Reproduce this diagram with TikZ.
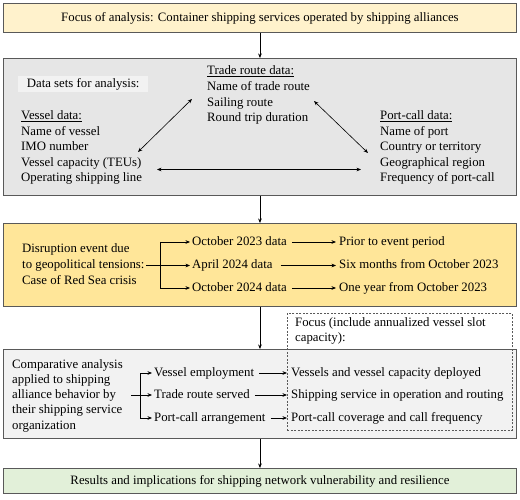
\documentclass[tikz,border=0pt]{standalone}
\usepackage{fontspec}
\setmainfont{Liberation Serif}
\usetikzlibrary{arrows.meta}
\definecolor{edgec}{HTML}{595959}
\definecolor{ylight}{HTML}{FFF2CC}
\definecolor{gbox}{HTML}{E6E6E6}
\definecolor{ginner}{HTML}{F2F2F2}
\definecolor{goldc}{HTML}{FFE699}
\definecolor{gcomp}{HTML}{F2F2F2}
\definecolor{gres}{HTML}{E2F0D9}
\begin{document}
\begin{tikzpicture}[x=1pt,y=-1pt,
  panel/.style={draw=edgec, line width=0.9pt, anchor=north west, inner sep=0pt, font=\fontsize{12.8}{15}\selectfont},
  t/.style={anchor=west, inner sep=0pt, font=\fontsize{12.8}{15}\selectfont, text height=8.5pt, text depth=2.5pt},
  arr/.style={-{Stealth[length=4.5pt,width=3.6pt]}, line width=0.6pt},
  darr/.style={{Stealth[length=4.5pt,width=3.6pt]}-{Stealth[length=4.5pt,width=3.6pt]}, line width=0.6pt},
  focusbox/.style={draw=edgec, dash pattern=on 2pt off 1.5pt, line width=0.9pt, anchor=north west, inner sep=0pt},
]
\useasboundingbox (0,0) rectangle (520,500);

% Box 1
\node[panel, fill=ylight, minimum width=513pt, minimum height=29pt] (b1) at (3,3)
  {Focus of analysis: Container shipping services operated by shipping alliances};

% Box 2
\node[panel, fill=gbox, minimum width=513pt, minimum height=137pt] (b2) at (3,58) {};
\draw[arr] (b1.south) -- (b2.north);
\node[fill=ginner, anchor=west, minimum width=130pt, minimum height=16pt, inner sep=0pt,
  font=\fontsize{12.8}{15}\selectfont] (ds) at (18,84) {Data sets for analysis:};

\node[t] (tr0) at (207,72) {\underline{Trade route data:}};
\node[t] (tr1) at (207,88) {Name of trade route};
\node[t] (tr2) at (207,103.5) {Sailing route};
\node[t] (tr3) at (207,119) {Round trip duration};

\node[t] (vd0) at (21,117) {\underline{Vessel data:}};
\node[t] (vd1) at (21,132.5) {Name of vessel};
\node[t] (vd2) at (21,148) {IMO number};
\node[t] (vd3) at (21,163.5) {Vessel capacity (TEUs)};
\node[t] (vd4) at (21,179) {Operating shipping line};

\node[t] (pd0) at (380,117) {\underline{Port-call data:}};
\node[t] (pd1) at (380,132.5) {Name of port};
\node[t] (pd2) at (380,148) {Country or territory};
\node[t] (pd3) at (380,163.5) {Geographical region};
\node[t] (pd4) at (380,179) {Frequency of port-call};

\coordinate (va) at (138,152);
\coordinate (ta) at (192,99);
\coordinate (tb) at (314,101);
\coordinate (pb) at (368,153);
\coordinate (vc) at (157,169.5);
\coordinate (pc) at (361,169.5);
\draw[darr] (va) -- (ta);
\draw[darr] (tb) -- (pb);
\draw[darr] (vc) -- (pc);

% Box 3
\node[panel, fill=goldc, minimum width=513pt, minimum height=83pt] (b3) at (3,223) {};
\draw[arr] (b2.south) -- (b3.north);
\node[t] (d1) at (22,250) {Disruption event due};
\node[t] (d2) at (22,265.5) {to geopolitical tensions:};
\node[t] (d3) at (22,281) {Case of Red Sea crisis};

\node[t] (o1) at (192,242) {October 2023 data};
\node[t] (o2) at (192,265.5) {April 2024 data};
\node[t] (o3) at (192,288) {October 2024 data};
\node[t] (p1) at (339,242) {Prior to event period};
\node[t] (p2) at (339,265.5) {Six months from October 2023};
\node[t] (p3) at (339,288) {One year from October 2023};

\coordinate (s3) at (146,265.5);
\coordinate (j3) at (160,265.5);
\draw[arr, shorten >=2pt] (s3) -- (o2.west);
\draw[line width=0.6pt] (j3 |- o1) -- (j3 |- o3);
\draw[arr, shorten >=2pt] (j3 |- o1) -- (o1.west);
\draw[arr, shorten >=2pt] (j3 |- o3) -- (o3.west);
\draw[arr, shorten >=3pt] ([xshift=5pt]o1.east) -- (p1.west);
\draw[arr, shorten >=3pt] ([xshift=8pt]o2.east) -- (p2.west);
\draw[arr, shorten >=3pt] ([xshift=5pt]o3.east) -- (p3.west);

% Box 4
\node[panel, fill=gcomp, minimum width=513pt, minimum height=89pt] (b4) at (3,349) {};
\draw[arr] (b3.south) -- (b4.north);
\node[t] (c1) at (12,365) {Comparative analysis};
\node[t] (c2) at (12,380) {applied to shipping};
\node[t] (c3) at (12,395) {alliance behavior by};
\node[t] (c4) at (12,410.5) {their shipping service};
\node[t] (c5) at (12,426) {organization};

\node[t] (v1) at (154,373) {Vessel employment};
\node[t] (v2) at (154,395) {Trade route served};
\node[t] (v3) at (154,418) {Port-call arrangement};
\node[t] (f1) at (291,373) {Vessels and vessel capacity deployed};
\node[t] (f2) at (291,395) {Shipping service in operation and routing};
\node[t] (f3) at (291,418) {Port-call coverage and call frequency};

\coordinate (s4) at (131,395);
\coordinate (j4) at (140,395);
\draw[arr, shorten >=2pt] (s4) -- (v2.west);
\draw[line width=0.6pt] (j4 |- v1) -- (j4 |- v3);
\draw[arr, shorten >=2pt] (j4 |- v1) -- (v1.west);
\draw[arr, shorten >=2pt] (j4 |- v3) -- (v3.west);
\draw[arr, shorten >=4pt] ([xshift=5pt]v1.east) -- (f1.west);
\draw[arr, shorten >=4pt] ([xshift=5pt]v2.east) -- (f2.west);
\draw[arr, shorten >=4pt] ([xshift=5pt]v3.east) -- (f3.west);

\node[focusbox, minimum width=225pt, minimum height=117pt] (fx) at (287,313) {};
\node[t] (fo1) at (295,323) {Focus (include annualized vessel slot};
\node[t] (fo2) at (295,338) {capacity):};

% Box 5
\node[panel, fill=gres, minimum width=513pt, minimum height=25pt] (b5) at (3,468)
  {Results and implications for shipping network vulnerability and resilience};
\draw[arr] (b4.south) -- (b5.north);
\end{tikzpicture}
\end{document}
